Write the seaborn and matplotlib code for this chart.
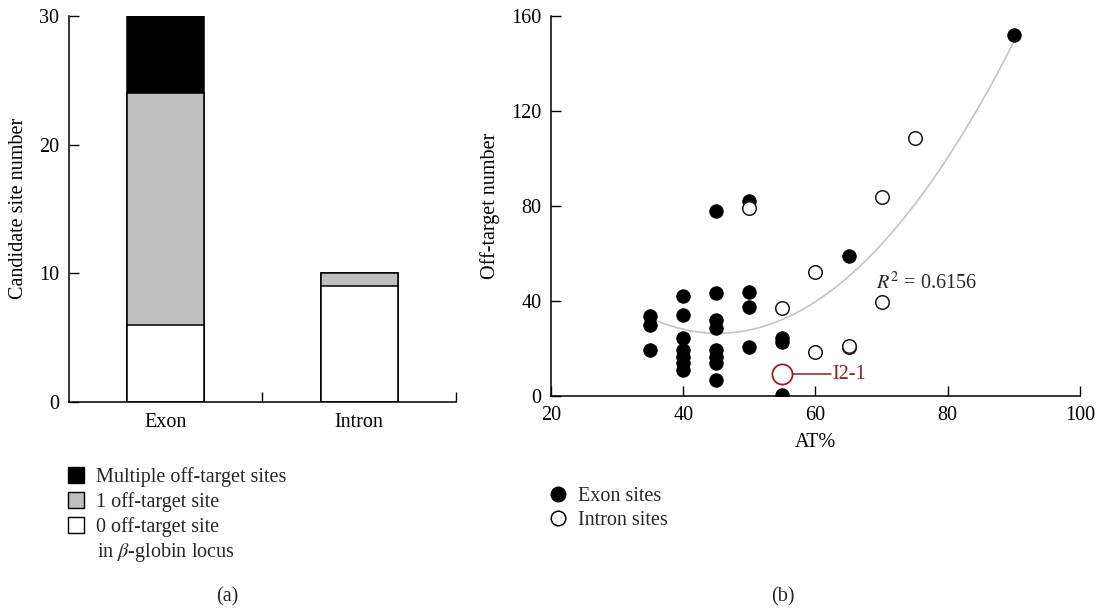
import numpy as np
import pandas as pd
import matplotlib
matplotlib.use("Agg")
import matplotlib.pyplot as plt
from matplotlib.patches import Patch
from matplotlib.lines import Line2D
import seaborn as sns

# ---------------- data ----------------
categories = ["Exon", "Intron"]
zero_off = [6, 9]
one_off = [18, 1]
multi_off = [6, 0]
bar_legend = ["Multiple off-target sites", "1 off-target site",
              "0 off-target site"]
bar_legend_extra = "in $\\it{\\beta}$-globin locus"

exon_at = [90, 45, 50, 65, 35, 35, 35,
           40, 40, 40, 40, 40, 40, 40,
           45, 45, 45, 45, 45, 45, 45,
           50, 50, 50, 55, 55, 55]
exon_off = [152, 78, 82, 59, 33.5, 30, 19.5,
            42, 34, 24.3, 19.5, 16.6, 13.8, 11,
            43.2, 32, 28.5, 19.5, 16.6, 13.8, 6.7,
            43.9, 37.6, 20.8, 24.3, 22.9, 0.5]
intron_at = [50, 75, 70, 60, 55, 70, 60, 65, 65]
intron_off = [79, 108.8, 83.9, 52.4, 36.9, 39.4, 18.4, 20.5, 21]
highlight_at = [55]
highlight_off = [9.1]
highlight_label = "I2-1"
r2_text = "$R^{2}$ = 0.6156"

# ---------------- style ----------------
sns.set_theme(style="white")
plt.rcParams["font.family"] = ["Liberation Serif", "DejaVu Serif"]
plt.rcParams["mathtext.fontset"] = "stix"
FS = 14.5

fig = plt.figure(figsize=(10.98, 6.08), dpi=100)
ax1 = fig.add_axes([0.0628, 0.3393, 0.3525, 0.6344])
ax2 = fig.add_axes([0.5018, 0.3487, 0.4818, 0.625])

# ---------------- (a) stacked bars ----------------
total = [z + o + m for z, o, m in zip(zero_off, one_off, multi_off)]
zero_one = [z + o for z, o in zip(zero_off, one_off)]
for vals, col in [(total, "black"), (zero_one, "#bfbfbf"), (zero_off, "white")]:
    sns.barplot(x=categories, y=vals, color=col, saturation=1, width=0.4,
                edgecolor="black", linewidth=1.1, errorbar=None, ax=ax1)

ax1.set_xlim(-0.5, 1.5)
ax1.set_ylim(0, 30)
ax1.set_yticks([0, 10, 20, 30])
ax1.set_ylabel("Candidate site number", fontsize=FS, color="black", labelpad=8)
ax1.set_xlabel("")
ax1.tick_params(axis="y", direction="in", length=7, width=1, labelsize=FS,
                pad=7, colors="black", left=True)
ax1.tick_params(axis="x", which="major", length=0, labelsize=FS, pad=8,
                colors="black")
ax1.set_xticks([0.5, 1.5], minor=True)
ax1.tick_params(axis="x", which="minor", direction="in", length=7, width=1,
                bottom=True, colors="black")
for s in ["top", "right"]:
    ax1.spines[s].set_visible(False)
for s in ["left", "bottom"]:
    ax1.spines[s].set_color("black")
    ax1.spines[s].set_linewidth(1.1)

# ---------------- (b) scatter ----------------
all_at = exon_at + intron_at + highlight_at
all_off = exon_off + intron_off + highlight_off
sns.regplot(x=all_at, y=all_off, order=2, ci=None, scatter=False,
            truncate=True, color="#c4c4c4", line_kws={"lw": 1.2, "zorder": 1},
            ax=ax2)
sns.scatterplot(x=exon_at, y=exon_off, s=95, color="black",
                edgecolor="black", linewidth=0.6, zorder=3, ax=ax2)
sns.scatterplot(x=intron_at, y=intron_off, s=95, facecolor="white",
                edgecolor="#1a1a1a", linewidth=1.1, zorder=3, ax=ax2)
red = "#9b1d20"
sns.scatterplot(x=highlight_at, y=highlight_off, s=210, facecolor="white",
                edgecolor=red, linewidth=1.3, zorder=4, ax=ax2)
ax2.plot([highlight_at[0] + 1.6, 62.4], [highlight_off[0]] * 2, color=red,
         lw=1.1, zorder=4)
ax2.text(62.5, highlight_off[0], highlight_label, color=red, fontsize=FS,
         va="center", ha="left")
ax2.text(69.2, 47.6, r2_text, fontsize=FS, va="center", ha="left")

ax2.set_xlim(20, 100)
ax2.set_ylim(0, 160)
ax2.set_xticks([20, 40, 60, 80, 100])
ax2.set_yticks([0, 40, 80, 120, 160])
ax2.set_xlabel("AT%", fontsize=FS, color="black", labelpad=6)
ax2.set_ylabel("Off-target number", fontsize=FS, color="black", labelpad=8)
ax2.tick_params(axis="both", direction="in", length=7, width=1, labelsize=FS,
                colors="black", left=True, bottom=True)
ax2.tick_params(axis="y", pad=7)
ax2.tick_params(axis="x", pad=7)
for s in ["top", "right"]:
    ax2.spines[s].set_visible(False)
for s in ["left", "bottom"]:
    ax2.spines[s].set_color("black")
    ax2.spines[s].set_linewidth(1.1)

# ---------------- legends ----------------
bar_handles = [Patch(facecolor=c, edgecolor="black", linewidth=1)
               for c in ["black", "#bfbfbf", "white"]]
fig.legend(bar_handles, bar_legend, loc="upper left",
           bbox_to_anchor=(60 / 1098, 1 - 459 / 608), frameon=False,
           fontsize=FS, handlelength=0.8, handleheight=0.8,
           handletextpad=0.6, labelspacing=0.25, borderaxespad=0)
fig.text(97 / 1098, 1 - 553 / 608, bar_legend_extra, fontsize=FS,
         ha="left", va="center")

sc_handles = [Line2D([], [], marker="o", ls="", markersize=10.5,
                     markerfacecolor="black", markeredgecolor="black"),
              Line2D([], [], marker="o", ls="", markersize=10.5,
                     markerfacecolor="white", markeredgecolor="black",
                     markeredgewidth=1.1)]
fig.legend(sc_handles, ["Exon sites", "Intron sites"], loc="upper left",
           bbox_to_anchor=(0.4915, 1 - 479 / 608), frameon=False, fontsize=FS,
           handlelength=1.0, handletextpad=0.5, labelspacing=0.25,
           borderaxespad=0)

fig.text(227 / 1098, 1 - 597 / 608, "(a)", fontsize=FS, ha="center",
         va="center")
fig.text(783 / 1098, 1 - 597 / 608, "(b)", fontsize=FS, ha="center",
         va="center")

fig.savefig("out.png", dpi=100, facecolor="white")
